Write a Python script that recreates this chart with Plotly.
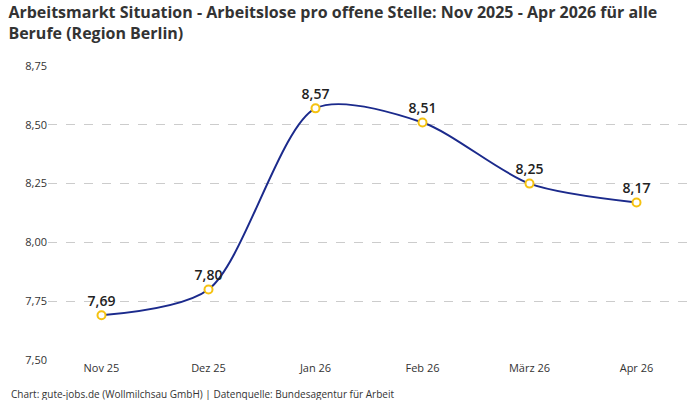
import plotly.graph_objects as go

months = ["Nov 25", "Dez 25", "Jan 26", "Feb 26", "März 26", "Apr 26"]
ratio = [7.69, 7.80, 8.57, 8.51, 8.25, 8.17]
y_ticks = [7.50, 7.75, 8.00, 8.25, 8.50, 8.75]

fig = go.Figure()
fig.add_trace(go.Scatter(
    x=months, y=ratio, mode="lines+markers+text",
    line=dict(color="#1b2a8c", width=2, shape="spline", smoothing=0.8),
    marker=dict(size=8, color="white", line=dict(color="#f5c211", width=2)),
    text=[f"{v:.2f}".replace(".", ",") for v in ratio],
    textposition="top center",
    textfont=dict(size=14, color="#222", family="Open Sans", weight=600),
    cliponaxis=False, hoverinfo="skip",
))

fig.update_layout(
    width=700, height=400,
    margin=dict(l=48, r=10, t=66, b=40),
    paper_bgcolor="white", plot_bgcolor="white",
    font=dict(family="Open Sans", size=11, color="#333"),
    separators=",.",
    showlegend=False,
    title=dict(
        text="<b>Arbeitsmarkt Situation - Arbeitslose pro offene Stelle: Nov 2025 - Apr 2026 für alle<br>Berufe (Region Berlin)</b>",
        x=0.012, xanchor="left", y=0.955, yanchor="top",
        font=dict(size=16, color="#333"),
    ),
    annotations=[dict(
        text="Chart: gute-jobs.de (Wollmilchsau GmbH) | Datenquelle: Bundesagentur für Arbeit",
        xref="paper", yref="paper", x=-0.06, y=-0.085, xanchor="left", yanchor="top",
        showarrow=False, font=dict(size=10, color="#333"),
    )],
)
fig.update_xaxes(range=[-0.5, 5.5], showgrid=False, showline=False, ticks="")
fig.update_yaxes(range=[7.5, 8.75], tickvals=y_ticks, tickformat=".2f",
                 gridcolor="#cccccc", griddash="dash", zeroline=False, ticks="")

fig.write_html("out.html", config={"displayModeBar": False},
               post_script="document.body.style.margin='0';")
